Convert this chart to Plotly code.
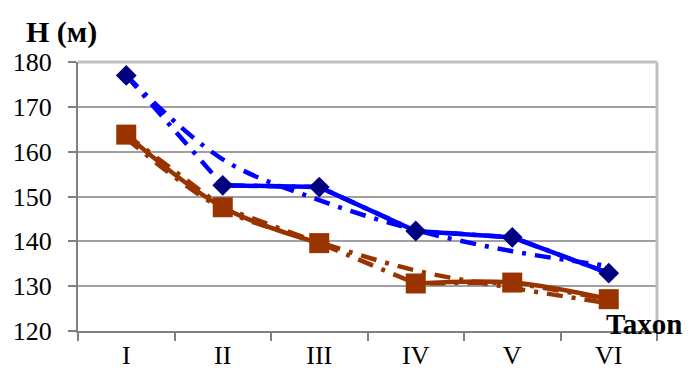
import plotly.graph_objects as go

categories = ["I", "II", "III", "IV", "V", "VI"]
blue_values = [177.0, 152.5, 152.1, 142.3, 140.9, 132.9]
blue_solid = [None, 152.5, 152.1, 142.3, 140.9, 132.9]
blue_trend = [177.0, 158.3, 149.2, 142.5, 137.8, 134.5]
brown_values = [163.8, 147.6, 139.6, 130.6, 130.8, 127.1]
brown_solid_a = [163.8, 147.6, 139.6, None, None, None]
brown_solid_b = [None, None, None, 130.6, 130.8, 127.1]
brown_trend = [163.0, 147.2, 139.8, 133.5, 129.6, 126.2]
y_ticks = [120, 130, 140, 150, 160, 170, 180]

BLUE = "#0000FF"
NAVY = "#000080"
BROWN = "#993300"
DD = "16px,9px,4px,9px"
FAM = "Times New Roman, Liberation Serif, serif"

fig = go.Figure()
fig.add_trace(go.Scatter(x=categories, y=blue_trend, mode="lines",
                         line=dict(color=BLUE, width=4.5, dash=DD, shape="spline"),
                         hoverinfo="skip"))
fig.add_trace(go.Scatter(x=categories, y=brown_trend, mode="lines",
                         line=dict(color=BROWN, width=4.5, dash=DD, shape="spline"),
                         hoverinfo="skip"))
fig.add_trace(go.Scatter(x=categories, y=blue_values, mode="lines",
                         line=dict(color=BLUE, width=4.5, dash=DD)))
fig.add_trace(go.Scatter(x=categories, y=brown_values, mode="lines",
                         line=dict(color=BROWN, width=4.5, dash=DD)))
fig.add_trace(go.Scatter(x=categories, y=blue_solid, mode="lines",
                         line=dict(color=BLUE, width=4.5)))
fig.add_trace(go.Scatter(x=categories, y=brown_solid_a, mode="lines",
                         line=dict(color=BROWN, width=4.5, shape="spline")))
fig.add_trace(go.Scatter(x=categories, y=brown_solid_b, mode="lines",
                         line=dict(color=BROWN, width=4.5, shape="spline")))
fig.add_trace(go.Scatter(x=categories, y=blue_values, mode="markers",
                         marker=dict(symbol="diamond", size=16, color=NAVY)))
fig.add_trace(go.Scatter(x=categories, y=brown_values, mode="markers",
                         marker=dict(symbol="square", size=20, color=BROWN)))

font = dict(family=FAM, size=26, color="#000000")

# page body has an 8px margin: figure offset by 8px, sized to end at window edge
fig.update_layout(
    width=688, height=366,
    margin=dict(l=70, r=39, t=54, b=43),
    paper_bgcolor="white", plot_bgcolor="white",
    showlegend=False,
    font=font,
    xaxis=dict(
        type="category", tickson="boundaries", ticks="outside", ticklen=8,
        tickcolor="#808080", tickwidth=1.5, automargin=False,
        showline=True, linecolor="#808080", linewidth=2,
        showgrid=False, tickfont=font, range=[-0.5, 5.5],
    ),
    yaxis=dict(
        range=[120, 180], tickvals=y_ticks, ticks="outside", ticklen=8,
        tickcolor="#808080", tickwidth=1.5, automargin=False,
        showline=True, linecolor="#808080", linewidth=2,
        showgrid=True, gridcolor="#A0A0A0", gridwidth=1.5,
        zeroline=False, tickfont=font, ticklabelstandoff=11,
    ),
    shapes=[
        dict(type="line", xref="paper", yref="paper", x0=0, x1=1, y0=1, y1=1,
             line=dict(color="#C0C0C0", width=3)),
        dict(type="line", xref="paper", yref="paper", x0=1, x1=1, y0=0, y1=1,
             line=dict(color="#C0C0C0", width=3)),
    ],
    annotations=[
        dict(text="<b>H (м)</b>", xref="paper", yref="paper", x=0, y=1.0,
             xanchor="left", yanchor="bottom", xshift=-54, yshift=11, showarrow=False,
             font=dict(family=FAM, size=30, color="#000")),
        dict(text="<b>Taxon</b>", xref="paper", yref="paper", x=1, y=0.0,
             xanchor="right", yanchor="middle", xshift=27, yshift=7, showarrow=False,
             font=dict(family=FAM, size=29, color="#000")),
    ],
)

fig.write_html("out.html")
